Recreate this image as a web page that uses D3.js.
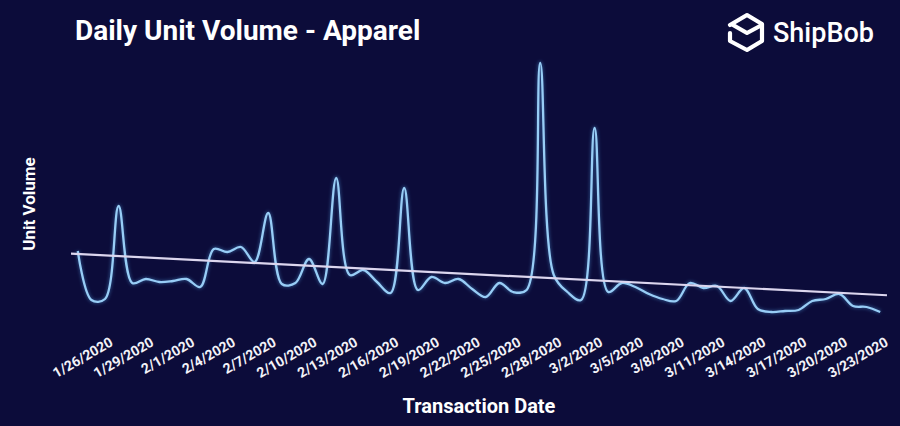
<!DOCTYPE html>
<html>
<head>
<meta charset="utf-8">
<script src="https://cdn.jsdelivr.net/npm/d3@7"></script>
<style>
  html, body { margin: 0; padding: 0; background: #0c0c3a; }
  svg { display: block; }
</style>
</head>
<body>
<svg id="chart" width="900" height="426"></svg>
<script>
const titleText = "Daily Unit Volume - Apparel";
const xTitle = "Transaction Date";
const yTitle = "Unit Volume";
const brand = "ShipBob";

const dates = [
  "1/24/2020","1/25/2020","1/26/2020","1/27/2020","1/28/2020","1/29/2020","1/30/2020","1/31/2020",
  "2/1/2020","2/2/2020","2/3/2020","2/4/2020","2/5/2020","2/6/2020","2/7/2020","2/8/2020",
  "2/9/2020","2/10/2020","2/11/2020","2/12/2020","2/13/2020","2/14/2020","2/15/2020","2/16/2020",
  "2/17/2020","2/18/2020","2/19/2020","2/20/2020","2/21/2020","2/22/2020","2/23/2020","2/24/2020",
  "2/25/2020","2/26/2020","2/27/2020","2/28/2020","2/29/2020","3/1/2020","3/2/2020","3/3/2020",
  "3/4/2020","3/5/2020","3/6/2020","3/7/2020","3/8/2020","3/9/2020","3/10/2020","3/11/2020",
  "3/12/2020","3/13/2020","3/14/2020","3/15/2020","3/16/2020","3/17/2020","3/18/2020","3/19/2020",
  "3/20/2020","3/21/2020","3/22/2020","3/23/2020"
];

const units = [
  69, 20, 21, 114, 37, 41, 38, 39, 41, 33,
  71, 68, 73, 58, 107, 36, 37, 61, 36, 142,
  45, 50, 38, 27, 132, 30, 43, 37, 41, 31,
  23, 37, 28, 30, 257, 45, 28, 20, 192, 28,
  37, 33, 26, 21, 19, 37, 32, 34, 19, 32,
  11, 8, 9, 10, 19, 21, 26, 14, 13, 8
];

const tickLabels = [
  "1/26/2020","1/29/2020","2/1/2020","2/4/2020","2/7/2020","2/10/2020","2/13/2020","2/16/2020",
  "2/19/2020","2/22/2020","2/25/2020","2/28/2020","3/2/2020","3/5/2020","3/8/2020","3/11/2020",
  "3/14/2020","3/17/2020","3/20/2020","3/23/2020"
];

const data = dates.map((d, i) => ({ i, date: d, v: units[i] }));

const svg = d3.select("#chart");
svg.append("rect").attr("width", 900).attr("height", 426).attr("fill", "#0c0c3a");

const x = d3.scaleLinear().domain([-0.5, dates.length - 0.5]).range([71, 887]);
const y = d3.scaleLinear().domain([0, 260]).range([320, 60]);

// soft glow filter
const defs = svg.append("defs");
const f = defs.append("filter").attr("id", "glow").attr("x", "-20%").attr("y", "-20%").attr("width", "140%").attr("height", "140%");
f.append("feGaussianBlur").attr("in", "SourceGraphic").attr("stdDeviation", 1.6);

// trend line (least squares)
const n = data.length;
const mx = d3.mean(data, d => d.i), my = d3.mean(data, d => d.v);
const slope = d3.sum(data, d => (d.i - mx) * (d.v - my)) / d3.sum(data, d => (d.i - mx) ** 2);
const icpt = my - slope * mx;
const tx0 = -0.5, tx1 = n - 0.5;

// data line
const line = d3.line().x(d => x(d.i)).y(d => y(d.v)).curve(d3.curveCatmullRom.alpha(0.5));
svg.append("path").datum(data)
  .attr("d", line)
  .attr("fill", "none")
  .attr("stroke", "#4a8fd0")
  .attr("stroke-opacity", 0.35)
  .attr("stroke-width", 4.5)
  .attr("filter", "url(#glow)");
svg.append("path").datum(data)
  .attr("d", line)
  .attr("fill", "none")
  .attr("stroke", "#98cdf6")
  .attr("stroke-width", 2.3)
  .attr("stroke-linejoin", "round");

svg.append("line")
  .attr("x1", x(tx0)).attr("y1", y(icpt + slope * tx0))
  .attr("x2", x(tx1)).attr("y2", y(icpt + slope * tx1))
  .attr("stroke", "#dcd6ee")
  .attr("stroke-width", 2.2);

// x axis labels
const tickIdx = tickLabels.map(l => dates.indexOf(l));
const axis = d3.axisBottom(x).tickValues(tickIdx).tickFormat(i => dates[i]).tickSize(0);
const gx = svg.append("g").call(axis);
gx.select(".domain").remove();
gx.selectAll(".tick").attr("transform", d => `translate(${x(d) + 9},345)`);
gx.selectAll(".tick text")
  .attr("x", 0).attr("y", 0).attr("dy", 0)
  .attr("text-anchor", "end")
  .attr("transform", "rotate(-30)")
  .attr("fill", "#f2f2f8")
  .style("font-family", "Roboto, 'Open Sans', sans-serif")
  .style("font-size", "14px")
  .style("font-weight", "700");

// titles
svg.append("text").attr("x", 75).attr("y", 40)
  .text(titleText)
  .attr("fill", "#ffffff")
  .style("font-family", "Roboto, sans-serif").style("font-size", "28px").style("font-weight", "700");

svg.append("text").attr("x", 479).attr("y", 413).attr("text-anchor", "middle")
  .text(xTitle)
  .attr("fill", "#ffffff")
  .style("font-family", "Roboto, sans-serif").style("font-size", "20px").style("font-weight", "700");

svg.append("text").attr("transform", "translate(35,204) rotate(-90)").attr("text-anchor", "middle")
  .text(yTitle)
  .attr("fill", "#ffffff")
  .style("font-family", "Roboto, sans-serif").style("font-size", "17px").style("font-weight", "700");

// brand logo
const lg = svg.append("g").attr("fill", "none").attr("stroke", "#ffffff").attr("stroke-width", 4.2)
  .attr("stroke-linejoin", "round").attr("stroke-linecap", "round");
lg.append("path").attr("d", "M730,25 L747,15 L762,24 L762,41 L747,50 L730,41 L730,33");
lg.append("path").attr("d", "M733,25 L747,33 L760,26");
svg.append("text").attr("x", 773).attr("y", 42)
  .text(brand)
  .attr("fill", "#ffffff")
  .style("font-family", "Roboto, sans-serif").style("font-size", "27px").style("font-weight", "500");
</script>
</body>
</html>
